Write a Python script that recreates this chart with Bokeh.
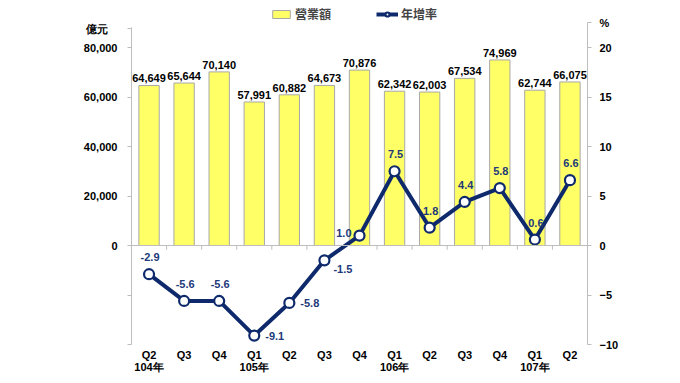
from bokeh.plotting import figure
from bokeh.models import (ColumnDataSource, Range1d, LinearAxis, FixedTicker, NumeralTickFormatter,
                          LabelSet, Span, Legend, LegendItem)
from bokeh.core.properties import value
from bokeh.embed import file_html
from bokeh.resources import INLINE

quarters = ["Q2", "Q3", "Q4", "Q1", "Q2", "Q3", "Q4", "Q1", "Q2", "Q3", "Q4", "Q1", "Q2"]
years = ["104年", "", "", "105年", "", "", "", "106年", "", "", "", "107年", ""]
revenue = [64649, 65644, 70140, 57991, 60882, 64673, 70876, 62342, 62003, 67534, 74969, 62744, 66075]
growth = [-2.9, -5.6, -5.6, -9.1, -5.8, -1.5, 1.0, 7.5, 1.8, 4.4, 5.8, 0.6, 6.6]
left_ticks = [-40000, -20000, 0, 20000, 40000, 60000, 80000]
right_ticks = [-10, -5, 0, 5, 10, 15, 20]
label_side = ["above", "above", "above", "right", "right", "rightbelow", "left",
              "above", "above", "above", "above", "above", "above"]

YELLOW = "#FFFF66"
NAVY = "#0E2A6C"
LABEL_NAVY = "#22397A"
GREY = "#BDBDBD"
FONT = "Arial"

n = len(revenue)
xs = list(range(n))

W, HT = 680, 383
BOTTOM_BORDER = 39
H = HT - BOTTOM_BORDER        # frame height, frame top at y=0
s = (H - 47) / 120.0          # px per 1000 so that 80,000 lands at y=47
y0 = H - 40 * s               # y of zero
top_val = y0 / s * 1000

p = figure(width=W, height=HT, output_backend="svg", toolbar_location=None,
           x_range=Range1d(-0.5, n - 0.5), y_range=Range1d(-40000, top_val),
           min_border_left=131, min_border_right=93, min_border_top=0,
           min_border_bottom=BOTTOM_BORDER)
p.title.visible = False
p.outline_line_color = None
p.xgrid.visible = False
p.ygrid.visible = False
p.extra_y_ranges = {"pct": Range1d(-10, top_val / 4000)}

src = ColumnDataSource(dict(x=xs, rev=revenue, g=growth, rev_txt=[f"{v:,}" for v in revenue]))

p.add_layout(Span(location=0, dimension="width", line_color=GREY, line_width=1))
bx = [i + 0.5 for i in range(n - 1)]
p.segment(x0=bx, x1=bx, y0=[0] * len(bx), y1=[-1700] * len(bx), line_color=GREY, line_width=1)

bars = p.vbar(x="x", top="rev", bottom=0, width=0.58, source=src,
              fill_color=YELLOW, line_color="#A8A8A8", line_width=1)
line = p.line(x="x", y="g", source=src, y_range_name="pct", line_color=NAVY, line_width=4)
pts = p.scatter(x="x", y="g", source=src, y_range_name="pct", size=10,
                fill_color="white", line_color=NAVY, line_width=2.2)

p.add_layout(LabelSet(x="x", y="rev", text="rev_txt", source=src, y_offset=3,
                      text_align="center", text_baseline="bottom",
                      text_font=value(FONT), text_font_style="bold", text_font_size="11px",
                      text_color="black"))

side_map = {
    "above": (1, 13, "center", "bottom"),
    "right": (11, 0, "left", "middle"),
    "rightbelow": (9, -9, "left", "middle"),
    "left": (-8, 3, "right", "middle"),
}
for side in sorted(set(label_side)):
    idx = [i for i in range(n) if label_side[i] == side]
    dx, dy, al, bl = side_map[side]
    ls = ColumnDataSource(dict(x=[xs[i] for i in idx], g=[growth[i] for i in idx],
                               t=[f"{growth[i]:.1f}" for i in idx]))
    p.add_layout(LabelSet(x="x", y="g", text="t", source=ls, y_range_name="pct",
                          x_offset=dx, y_offset=dy, text_align=al, text_baseline=bl,
                          text_font=value(FONT), text_font_style="bold", text_font_size="11px",
                          text_color=LABEL_NAVY))

def style_axis(ax):
    ax.axis_line_color = GREY
    ax.major_tick_line_color = GREY
    ax.minor_tick_line_color = None
    ax.major_tick_in = 0
    ax.major_tick_out = 4
    ax.major_label_text_font = FONT
    ax.major_label_text_font_style = "bold"
    ax.major_label_text_font_size = "11px"
    ax.major_label_text_color = "black"

UNIT_POS = 87600   # "億元" sits at the top of the left axis
p.yaxis.ticker = FixedTicker(ticks=left_ticks + [UNIT_POS])
p.yaxis.formatter = NumeralTickFormatter(format="0,0")
overrides = {t: "" for t in left_ticks if t < 0}
overrides[UNIT_POS] = "億元\u00a0\u00a0\u00a0"
p.yaxis.major_label_overrides = overrides
p.yaxis.bounds = (-40000, 88000)
style_axis(p.yaxis[0])
p.yaxis.major_label_standoff = 10

PCT_POS = 22.5
right = LinearAxis(y_range_name="pct", ticker=FixedTicker(ticks=right_ticks + [PCT_POS]),
                   major_label_overrides={PCT_POS: "%"}, bounds=(-10, PCT_POS))
style_axis(right)
right.major_label_standoff = 8
p.add_layout(right, "right")

p.xaxis.ticker = FixedTicker(ticks=xs)
p.xaxis.major_label_overrides = {i: (quarters[i] + ("\n" + years[i] if years[i] else "")) for i in xs}
style_axis(p.xaxis[0])
p.xaxis.axis_line_color = None
p.xaxis.major_tick_line_color = None
p.xaxis.major_tick_out = 0
p.xaxis.major_label_standoff = 4
p.xaxis.major_label_text_line_height = 1.0

legend = Legend(items=[LegendItem(label="營業額", renderers=[bars]),
                       LegendItem(label="年增率", renderers=[line, pts])],
                orientation="horizontal", location=(139, H - 22), margin=0, padding=2, spacing=45,
                glyph_width=22, glyph_height=10, label_height=12, label_standoff=3,
                label_text_font="Noto Sans CJK TC", label_text_font_style="bold",
                label_text_font_size="12px", border_line_color=None, background_fill_alpha=0)
p.add_layout(legend)

open("out.html", "w").write(file_html(p, INLINE))
